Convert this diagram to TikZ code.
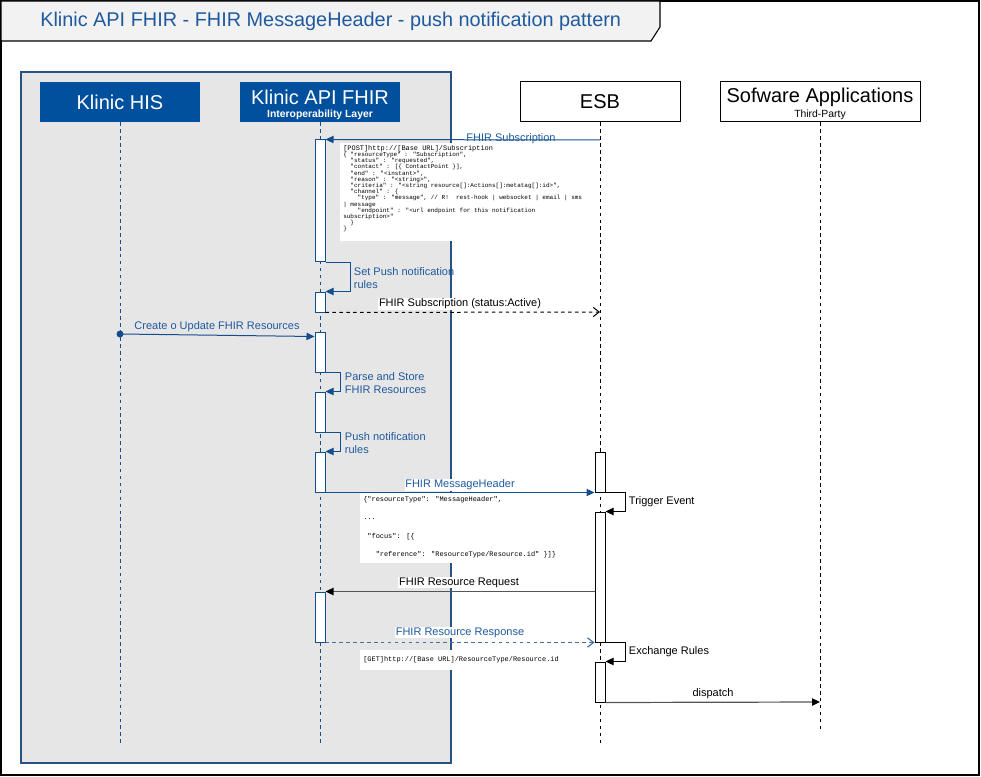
\documentclass[tikz,border=0pt]{standalone}
\usepackage{fontspec}
\setmainfont{Liberation Sans}
\newfontfamily\codefont{Liberation Mono}
\usetikzlibrary{arrows.meta,fit,calc}
\definecolor{hdrblue}{RGB}{0,80,158}
\definecolor{lineblue}{RGB}{20,78,142}
\definecolor{txtblue}{RGB}{31,90,158}
\definecolor{contgray}{RGB}{230,230,230}
\definecolor{contborder}{RGB}{40,82,132}
\definecolor{titlegray}{RGB}{242,242,242}
\definecolor{darkline}{RGB}{85,85,85}
\tikzset{
  act/.style={draw=lineblue, fill=white, inner sep=0pt, line width=0.75pt},
  actk/.style={draw=black, fill=white, inner sep=0pt, line width=0.75pt},
  hdrbox/.style={fill=hdrblue, text=white, minimum width=120pt, minimum height=30pt, inner sep=0pt, align=center},
  wbox/.style={draw=black, fill=white, line width=0.75pt, minimum height=30pt, inner sep=0pt, align=center},
  bigtxt/.style={font=\fontsize{15pt}{18pt}\selectfont, inner sep=0pt},
  smalltxt/.style={font=\fontsize{7.8pt}{9pt}\selectfont, inner sep=0pt},
  lifeblue/.style={draw=lineblue, line width=0.75pt, dash pattern=on 2.6pt off 2.6pt},
  lifeblack/.style={draw=black, line width=0.75pt, dash pattern=on 2.6pt off 2.6pt},
  bluemsg/.style={draw=lineblue, line width=0.75pt, -{Triangle[length=6pt,width=5.5pt]}},
  blackmsg/.style={draw=darkline, line width=0.9pt, -{Triangle[length=6pt,width=5.5pt,color=black]}},
  selfk/.style={draw=black, line width=0.75pt, -{Triangle[length=6pt,width=5.5pt]}},
  dashk/.style={draw=black, line width=0.75pt, dash pattern=on 2.6pt off 2.6pt, -{Straight Barb[length=4.5pt,width=7pt]}},
  dashb/.style={draw=lineblue!80, line width=0.9pt, dash pattern=on 2.6pt off 2.6pt, -{Straight Barb[length=4.5pt,width=7pt]}},
  lbl/.style={font=\fontsize{8.25pt}{9.75pt}\selectfont, inner sep=0.5pt, yshift=-1.3pt},
  bluelbl/.style={lbl, text=txtblue},
  wlbl/.style={lbl, fill=white},
  note/.style={fill=white, inner sep=0pt},
  code/.style={font=\codefont\fontsize{4.5pt}{4.65pt}\selectfont, align=left, inner sep=0pt, anchor=north west},
  code2/.style={font=\codefont\fontsize{5.2pt}{6pt}\selectfont, inner sep=0pt, anchor=west},
}
\begin{document}
\begin{tikzpicture}[x=0.75pt,y=-0.75pt]
\useasboundingbox (0,0) rectangle (981,777);
% frame and title
\draw[line width=1pt] (1,1) rectangle (979,775);
\draw[fill=titlegray, line width=0.8pt] (1,1) -- (660,1) -- (660,27) -- (651,41) -- (1,41) -- cycle;
\node[anchor=west, text=txtblue, font=\fontsize{14.9pt}{17pt}\selectfont, inner sep=0pt] (title) at (40,21) {Klinic API FHIR - FHIR MessageHeader - push notification pattern};
% container
\node[draw=contborder, fill=contgray, inner sep=0pt, line width=0.9pt, fit={(21,72) (451,763)}] (layer) {};
% headers
\node[hdrbox, font=\fontsize{15pt}{18pt}\selectfont] (his) at (120,102) {Klinic HIS};
\node[hdrbox] (api) at (320,102) {};
\node[bigtxt, text=white] (apit) at (320,97) {Klinic API FHIR};
\node[smalltxt, text=white, font=\fontsize{7.8pt}{9pt}\bfseries\selectfont] (apis) at (320,114.5) {Interoperability Layer};
\node[wbox, minimum width=120pt, font=\fontsize{15pt}{18pt}\selectfont] (esb) at (600,102) {ESB};
\node[wbox, minimum width=150pt] (sw) at (820,102) {};
\node[bigtxt] (swt) at (820,97) {Sofware Applications};
\node[smalltxt] (sws) at (820,114.5) {Third-Party};
% lifeline ends
\coordinate (hisend) at (120,743);
\coordinate (apiend) at (320,743);
\coordinate (esbend) at (600,743);
\coordinate (swend) at (820,732);
\draw[lifeblue] (his.south) -- (hisend);
\draw[lifeblue] (api.south) -- (apiend);
\draw[lifeblack] (esb.south) -- (esbend);
\draw[lifeblack] (sw.south) -- (swend);
% notes
\node[note, fit={(340,143) (597,241)}] (n1) {};
\node[code] (c1) at (343,145) {{\fontsize{5.2pt}{5.6pt}\selectfont [POST]http://[Base URL]/Subscription}\\
\{ "resourceType" : "Subscription",\\
\ \ "status" : "requested",\\
\ \ "contact" : [\{ ContactPoint \}],\\
\ \ "end" : "<instant>",\\
\ \ "reason" : "<string>",\\
\ \ "criteria" : "<string resource[]:Actions[]:metatag[]:id>",\\
\ \ "channel" : \{\\
\ \ \ \ "type" : "message", // R!\ \ rest-hook | websocket | email | sms\\
| message\\
\ \ \ \ "endpoint" : "<url endpoint for this notification\\
subscription>"\\
\ \ \}\\
\}};
\node[note, fit={(360,493) (593,563)}] (n2) {};
\node[code2] (c2a) at (363,500) {\{"resourceType": "MessageHeader",};
\node[code2] (c2b) at (363,519) {...};
\node[code2] (c2c) at (363,537) {\ "focus": [\{};
\node[code2] (c2d) at (363,555) {\ \ \ "reference": "ResourceType/Resource.id" \}]\}};
\node[note, fit={(360,650) (593,670)}] (n3) {};
\node[code2] (c3) at (363,660) {[GET]http://[Base URL]/ResourceType/Resource.id};
% activation boxes
\node[act, fit={(315,140) (325,262)}] (a1) {};
\node[act, fit={(315,292) (325,312)}] (a2) {};
\node[act, fit={(315,332) (325,372)}] (a3) {};
\node[act, fit={(315,392) (325,432)}] (a4) {};
\node[act, fit={(315,452) (325,492)}] (a5) {};
\node[act, fit={(315,592) (325,642)}] (a6) {};
\node[actk, fit={(595,452) (605,492)}] (e1) {};
\node[actk, fit={(595,512) (605,642)}] (e2) {};
\node[actk, fit={(595,662) (605,702)}] (e3) {};
% messages
\coordinate (esbsub) at (600,140);
\draw[bluemsg] (esbsub) -- (a1.north east);
\node[bluelbl] (l1) at (511,137) {FHIR Subscription};
\draw[bluemsg] (a1.south east) -- ++(25,0) |- (a2.north east);
\node[bluelbl, anchor=north west, align=left] (l2) at (353,265) {Set Push notification\\rules};
\coordinate (esbact) at (600,312);
\draw[dashk] (a2.south east) -- (esbact);
\node[wlbl] (l3) at (460,302) {FHIR Subscription (status:Active)};
\fill[lineblue] (120,334) circle (3.5) coordinate (hisdot);
\draw[bluemsg] (hisdot) -- ($(a3.north west)+(0,5)$);
\node[bluelbl] (l4) at (217,325) {Create o Update FHIR Resources};
\draw[bluemsg] (a3.south east) -- ++(15,0) |- (a4.north east);
\node[bluelbl, anchor=north west, align=left] (l5) at (344,370) {Parse and Store\\FHIR Resources};
\draw[bluemsg] (a4.south east) -- ++(15,0) |- (a5.north east);
\node[bluelbl, anchor=north west, align=left] (l6) at (344,430) {Push notification\\rules};
\draw[bluemsg] (a5.south west) -- (e1.south west);
\node[bluelbl, fill=white] (l7) at (460,483) {FHIR MessageHeader};
\draw[selfk] (e1.south east) -- ++(20,0) |- (e2.north east);
\node[lbl, anchor=west] (l8) at (628,500) {Trigger Event};
\draw[blackmsg] (e2.west |- a6.north east) -- (a6.north east);
\node[wlbl] (l9) at (459,581) {FHIR Resource Request};
\draw[dashb] (a6.south east) -- (e2.south west);
\node[bluelbl, fill=white] (l10) at (460,631) {FHIR Resource Response};
\draw[selfk] (e2.south east) -- ++(20,0) |- (e3.north east);
\node[lbl, anchor=west] (l11) at (628,650) {Exchange Rules};
\coordinate (swdisp) at (820,702);
\draw[blackmsg] (e3.south east) -- (swdisp);
\node[lbl] (l12) at (713,692) {dispatch};
\end{tikzpicture}
\end{document}
